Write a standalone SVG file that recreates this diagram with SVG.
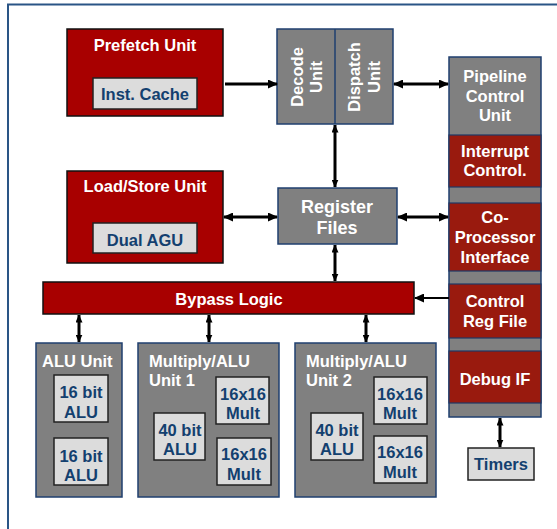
<svg xmlns="http://www.w3.org/2000/svg" width="557" height="529" viewBox="0 0 557 529">
<style>
text{font-family:"Liberation Sans",Arial,sans-serif;font-weight:bold;font-size:16.5px}
.w{fill:#ffffff}
.b{fill:#13406F}
.red{fill:#A80000;stroke:#111;stroke-width:1.5}
.red2{fill:#991A0E;stroke:#1F3864;stroke-width:1.2}
.gray{fill:#808080;stroke:#1F3F6F;stroke-width:1.5}
.lite{fill:#DCDCDC;stroke:#222;stroke-width:1.5}
.c{text-anchor:middle}
.big{font-size:18px}
.ar{stroke:#000;stroke-width:3;fill:none}
</style>
<defs>
<marker id="ah" viewBox="0 0 10 9" refX="9" refY="4.5" markerWidth="10" markerHeight="9" markerUnits="userSpaceOnUse" orient="auto-start-reverse">
<path d="M0,0 L10,4.5 L0,9 z" fill="#000"/>
</marker>
<marker id="ahs" viewBox="0 0 8 7" refX="7.5" refY="3.5" markerWidth="8" markerHeight="7" markerUnits="userSpaceOnUse" orient="auto-start-reverse">
<path d="M0,0 L8,3.5 L0,7 z" fill="#000"/>
</marker>
</defs>
<rect width="557" height="529" fill="#ffffff"/>
<path d="M8,529 L8,4.5 L557,4.5" fill="none" stroke="#2A5586" stroke-width="2"/>

<g id="prefetch">
<rect class="red" x="67" y="29" width="156" height="87"/>
<text class="w c" x="145" y="51">Prefetch Unit</text>
<rect class="lite" x="93" y="78" width="104" height="31"/>
<text class="b c" x="145" y="100">Inst. Cache</text>
</g>
<g id="loadstore">
<rect class="red" x="67" y="171" width="156" height="92"/>
<text class="w c" x="145" y="192">Load/Store Unit</text>
<rect class="lite" x="93" y="223" width="104" height="30"/>
<text class="b c" x="145" y="246">Dual AGU</text>
</g>
<g id="decode">
<rect class="gray" x="277" y="29" width="116" height="95"/>
<line x1="335" y1="29" x2="335" y2="124" stroke="#1F3F6F" stroke-width="1.5"/>
<text class="w c" transform="translate(303,77) rotate(-90)">Decode</text>
<text class="w c" transform="translate(322,77) rotate(-90)">Unit</text>
<text class="w c" transform="translate(360,77) rotate(-90)">Dispatch</text>
<text class="w c" transform="translate(380,77) rotate(-90)">Unit</text>
</g>
<g id="register">
<rect class="gray" x="278" y="188" width="119" height="56"/>
<text class="w c big" x="337" y="213">Register</text>
<text class="w c big" x="337" y="234">Files</text>
</g>
<g id="pipeline">
<rect class="gray" x="449" y="57" width="92" height="360"/>
<text class="w c" x="495" y="82">Pipeline</text>
<text class="w c" x="495" y="102">Control</text>
<text class="w c" x="495" y="121">Unit</text>
<rect class="red2" x="449" y="135" width="92" height="52"/>
<text class="w c" x="495" y="157">Interrupt</text>
<text class="w c" x="495" y="176">Control.</text>
<rect class="red2" x="449" y="203" width="92" height="68"/>
<text class="w c" x="495" y="223">Co-</text>
<text class="w c" x="495" y="243">Processor</text>
<text class="w c" x="495" y="263">Interface</text>
<rect class="red2" x="449" y="284" width="92" height="54"/>
<text class="w c" x="495" y="307">Control</text>
<text class="w c" x="495" y="327">Reg File</text>
<rect class="red2" x="449" y="351" width="92" height="52"/>
<text class="w c" x="495" y="385">Debug IF</text>
</g>
<g id="timers">
<rect class="lite" x="468" y="448" width="66" height="32"/>
<text class="b c" x="501" y="470">Timers</text>
</g>
<g id="bypass">
<rect class="red" x="43" y="282" width="371" height="32"/>
<text class="w c" x="229" y="305">Bypass Logic</text>
</g>
<g id="alu">
<rect class="gray" x="36" y="343" width="86" height="154"/>
<text class="w" x="42" y="367">ALU Unit</text>
<rect class="lite" x="54" y="375" width="54" height="47"/>
<text class="b c" x="81" y="398">16 bit</text>
<text class="b c" x="81" y="418">ALU</text>
<rect class="lite" x="54" y="438" width="54" height="47"/>
<text class="b c" x="81" y="462">16 bit</text>
<text class="b c" x="81" y="481">ALU</text>
</g>
<g id="mult1">
<rect class="gray" x="138" y="343" width="141" height="154"/>
<text class="w" x="149" y="367">Multiply/ALU</text>
<text class="w" x="149" y="386">Unit 1</text>
<rect class="lite" x="154" y="413" width="51" height="47"/>
<text class="b c" x="180" y="436">40 bit</text>
<text class="b c" x="180" y="455">ALU</text>
<rect class="lite" x="216" y="377" width="53" height="47"/>
<text class="b c" x="243" y="400">16x16</text>
<text class="b c" x="243" y="419">Mult</text>
<rect class="lite" x="217" y="438" width="54" height="47"/>
<text class="b c" x="244" y="460">16x16</text>
<text class="b c" x="244" y="480">Mult</text>
</g>
<g id="mult2">
<rect class="gray" x="295" y="343" width="141" height="154"/>
<text class="w" x="306" y="367">Multiply/ALU</text>
<text class="w" x="306" y="386">Unit 2</text>
<rect class="lite" x="311" y="413" width="52" height="47"/>
<text class="b c" x="337" y="436">40 bit</text>
<text class="b c" x="337" y="455">ALU</text>
<rect class="lite" x="374" y="377" width="53" height="47"/>
<text class="b c" x="400" y="400">16x16</text>
<text class="b c" x="400" y="419">Mult</text>
<rect class="lite" x="374" y="436" width="53" height="47"/>
<text class="b c" x="400" y="458">16x16</text>
<text class="b c" x="400" y="478">Mult</text>
</g>
<g id="connectors">
<line class="ar" x1="225" y1="84" x2="277" y2="84" marker-end="url(#ah)"/>
<line class="ar" x1="394" y1="84" x2="448" y2="84" marker-start="url(#ah)" marker-end="url(#ah)"/>
<line class="ar" x1="335" y1="125" x2="335" y2="187" marker-start="url(#ahs)" marker-end="url(#ahs)"/>
<line class="ar" x1="224" y1="217" x2="277" y2="217" marker-start="url(#ah)" marker-end="url(#ah)"/>
<line class="ar" x1="398" y1="217" x2="448" y2="217" marker-start="url(#ah)" marker-end="url(#ah)"/>
<line class="ar" x1="335" y1="245" x2="335" y2="281" marker-start="url(#ahs)" marker-end="url(#ahs)"/>
<line class="ar" x1="449" y1="298" x2="415" y2="298" marker-end="url(#ah)" style="stroke-width:2"/>
<line class="ar" x1="79" y1="315" x2="79" y2="342" marker-start="url(#ahs)" marker-end="url(#ahs)"/>
<line class="ar" x1="209" y1="315" x2="209" y2="342" marker-start="url(#ahs)" marker-end="url(#ahs)"/>
<line class="ar" x1="366" y1="315" x2="366" y2="342" marker-start="url(#ahs)" marker-end="url(#ahs)"/>
<line class="ar" x1="500" y1="418" x2="500" y2="447" marker-start="url(#ahs)" marker-end="url(#ahs)"/>
</g>
</svg>
